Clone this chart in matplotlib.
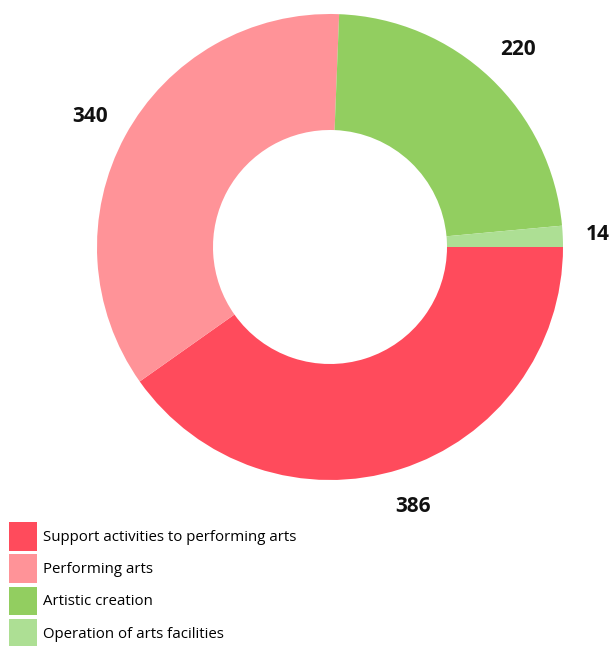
from matplotlib import pyplot as plt
from matplotlib.patches import Patch

# data
categories = ['Support activities to performing arts', 'Performing arts',
              'Artistic creation', 'Operation of arts facilities']
values = [386, 340, 220, 14]
colors = ['#FF4B5C', '#FF9398', '#92CE60', '#ADDF94']

plt.rcParams['font.family'] = ['Open Sans', 'DejaVu Sans']

fig = plt.figure(figsize=(6.12, 6.46), dpi=100)
ax = fig.add_axes([0, 0, 1, 1])

# axes in pixel units, y up
wedges, texts = ax.pie(values, colors=colors, labels=[str(v) for v in values],
                       startangle=0, counterclock=False,
                       center=(330, 646 - 247), radius=233,
                       labeldistance=1.17,
                       wedgeprops=dict(width=116, linewidth=0),
                       textprops=dict(fontsize=15, fontweight='bold', color='#111111'))
for t in texts:
    t.set_ha('center')
    t.set_va('center')
# small slice label sits against the right edge
texts[-1].set_ha('right')
texts[-1].set_x(610)

ax.set_xlim(0, 612)
ax.set_ylim(0, 646)
ax.set_aspect('auto')
ax.axis('off')

handles = [Patch(facecolor=c, edgecolor='none') for c in colors]
fig.legend(handles, categories, loc='upper left',
           bbox_to_anchor=(9 / 612, 1 - 522 / 646), frameon=False,
           fontsize=10.8, handlelength=1.85, handleheight=2.55,
           handletextpad=0.4, labelspacing=0.25, borderpad=0, borderaxespad=0)

fig.savefig('out.png', dpi=100)
